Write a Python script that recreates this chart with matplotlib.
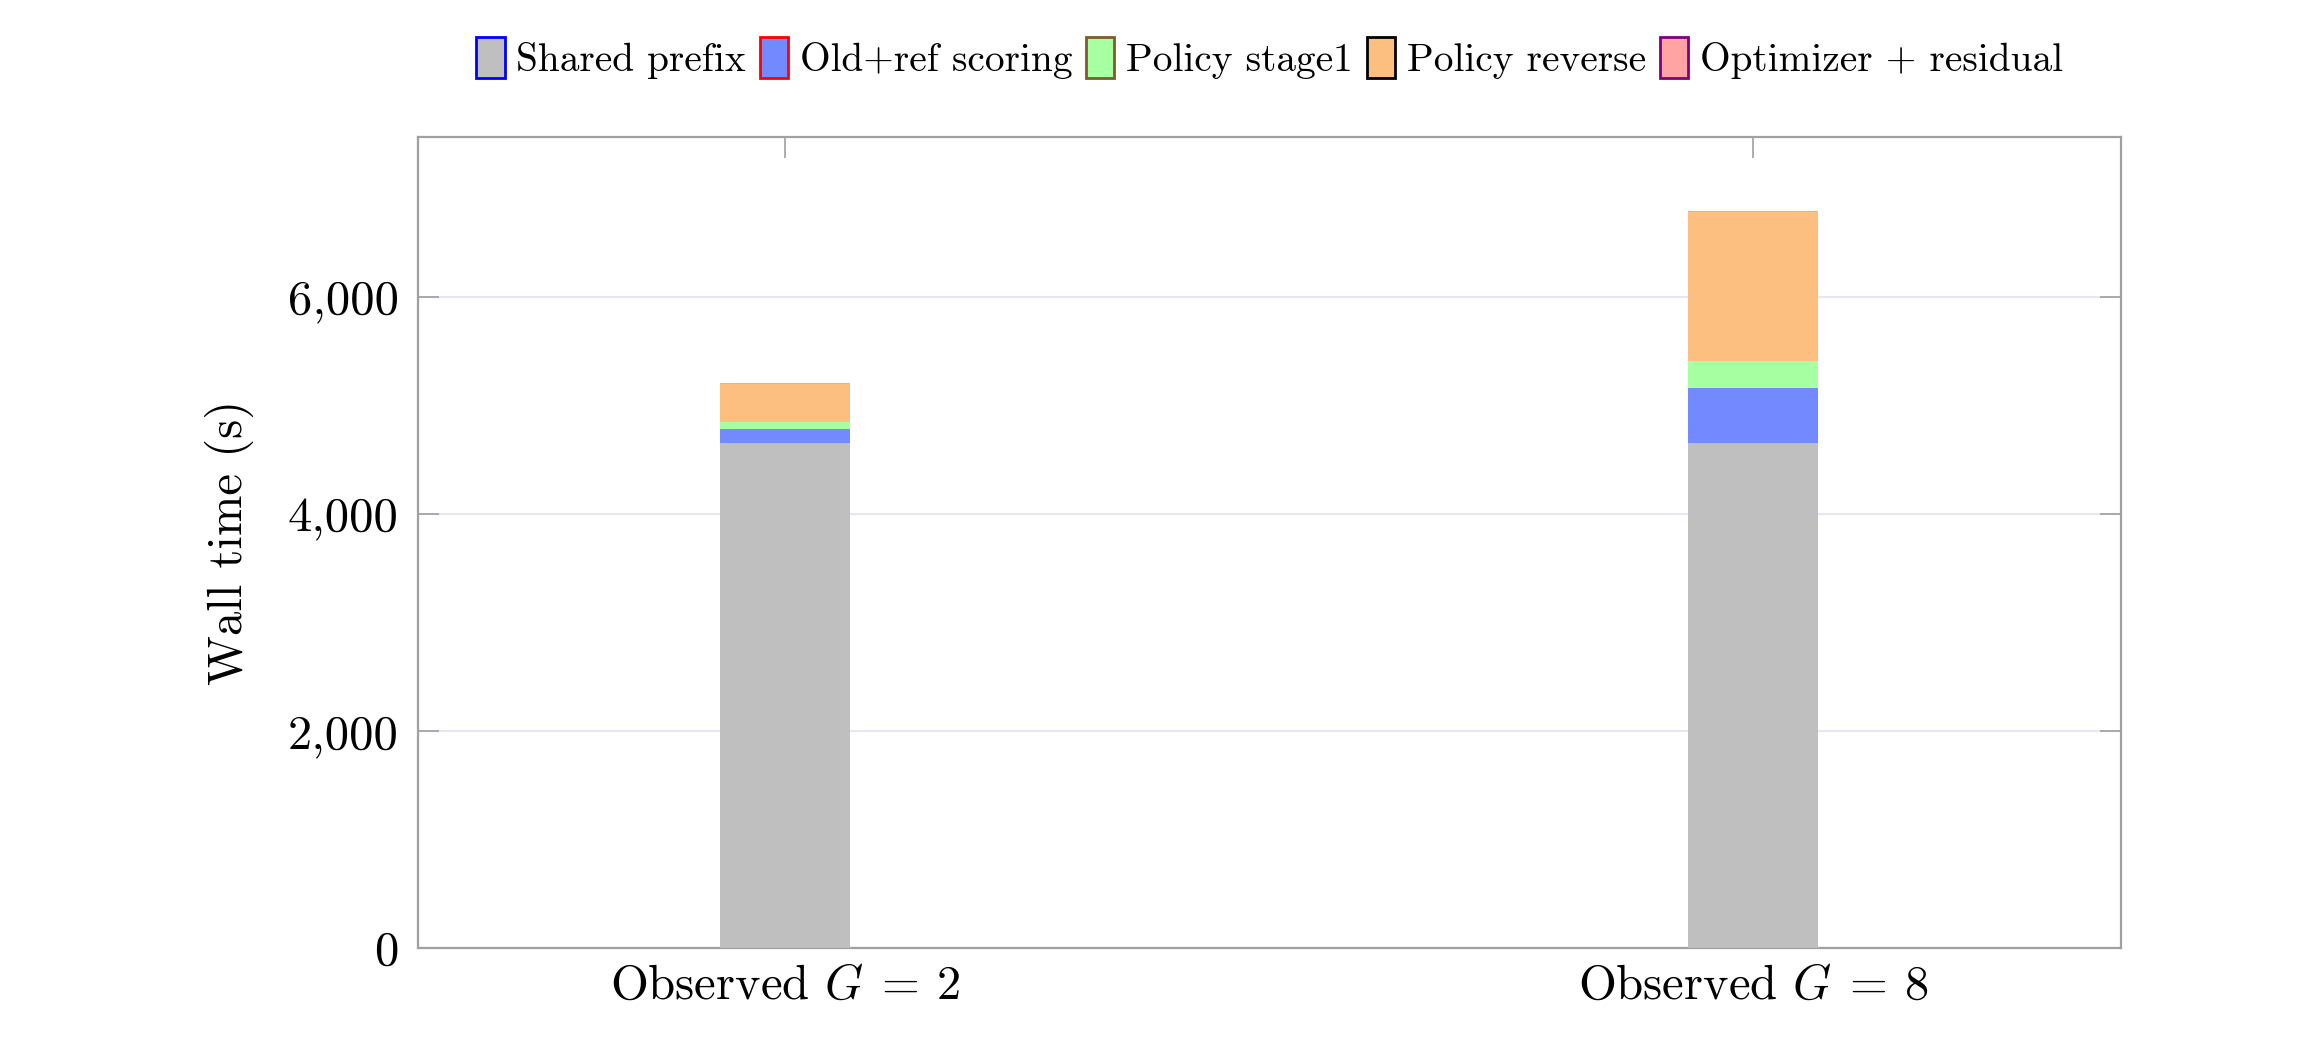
import matplotlib
matplotlib.use("Agg")
import matplotlib.pyplot as plt
from matplotlib.patches import Patch
from matplotlib.ticker import FuncFormatter, MultipleLocator
import numpy as np

plt.rcParams['font.family'] = ['cmr10', 'DejaVu Serif']
plt.rcParams['mathtext.fontset'] = 'cm'
plt.rcParams['axes.unicode_minus'] = False
plt.rcParams['axes.formatter.use_mathtext'] = True

# data (seconds)
categories = ['Observed $G\\:=\\:2$', 'Observed $G\\:=\\:8$']
shared_prefix = [4654, 4654]
old_ref_scoring = [127, 510]
policy_stage1 = [67, 249]
policy_reverse = [350, 1370]
optimizer_residual = [6, 10]

series = [
    ('Shared prefix', shared_prefix, '#bfbfbf', 'blue'),
    ('Old+ref scoring', old_ref_scoring, '#7289ff', 'red'),
    ('Policy stage1', policy_stage1, '#a6ffa0', '#7f5a2e'),
    ('Policy reverse', policy_reverse, '#fdbf80', 'black'),
    ('Optimizer + residual', optimizer_residual, '#ffa3a3', '#800080'),
]

fig = plt.figure(figsize=(23.15, 10.4), dpi=100)
ax = fig.add_axes([418 / 2315, 1 - 948 / 1040, (2121 - 418) / 2315, (948 - 137) / 1040])

x = np.arange(len(categories))
bottom = np.zeros(len(categories))
handles = []
for name, vals, face, edge in series:
    ax.bar(x, vals, width=0.134, bottom=bottom, color=face, edgecolor='none', zorder=3)
    bottom += np.array(vals)
    handles.append(Patch(facecolor=face, edgecolor=edge, linewidth=2.0, label=name))

ax.set_xlim(-0.379, 1.380)
ax.set_ylim(0, 1.1 * bottom.max())
ax.set_xticks(x)
ax.set_xticklabels(categories, fontsize=35)
ax.yaxis.set_major_locator(MultipleLocator(2000))
ax.yaxis.set_major_formatter(FuncFormatter(lambda v, p: f'{v:,.0f}'))
for lab in ax.get_yticklabels():
    lab.set_fontsize(35)
ax.set_ylabel('Wall time (s)', fontsize=35, labelpad=24)

ax.set_axisbelow(True)
ax.grid(axis='y', color='#e4e7f8', linewidth=1.5)
for s in ax.spines.values():
    s.set_color('#a0a0a0')
    s.set_linewidth(1.6)
ax.tick_params(axis='both', direction='in', length=15, width=1.2, color='#a0a0a0',
               top=True, right=True, labelsize=35)
ax.tick_params(axis='y', pad=14)
ax.tick_params(axis='x', pad=12)

fig.legend(handles=handles, loc='center', bbox_to_anchor=((418 + 2121) / 2 / 2315, 1 - 58 / 1040),
           ncol=5, frameon=False, fontsize=28.3, handlelength=0.72, handleheight=1.2,
           handletextpad=0.3, columnspacing=0.35, borderaxespad=0)

fig.savefig('out.png', dpi=100)
